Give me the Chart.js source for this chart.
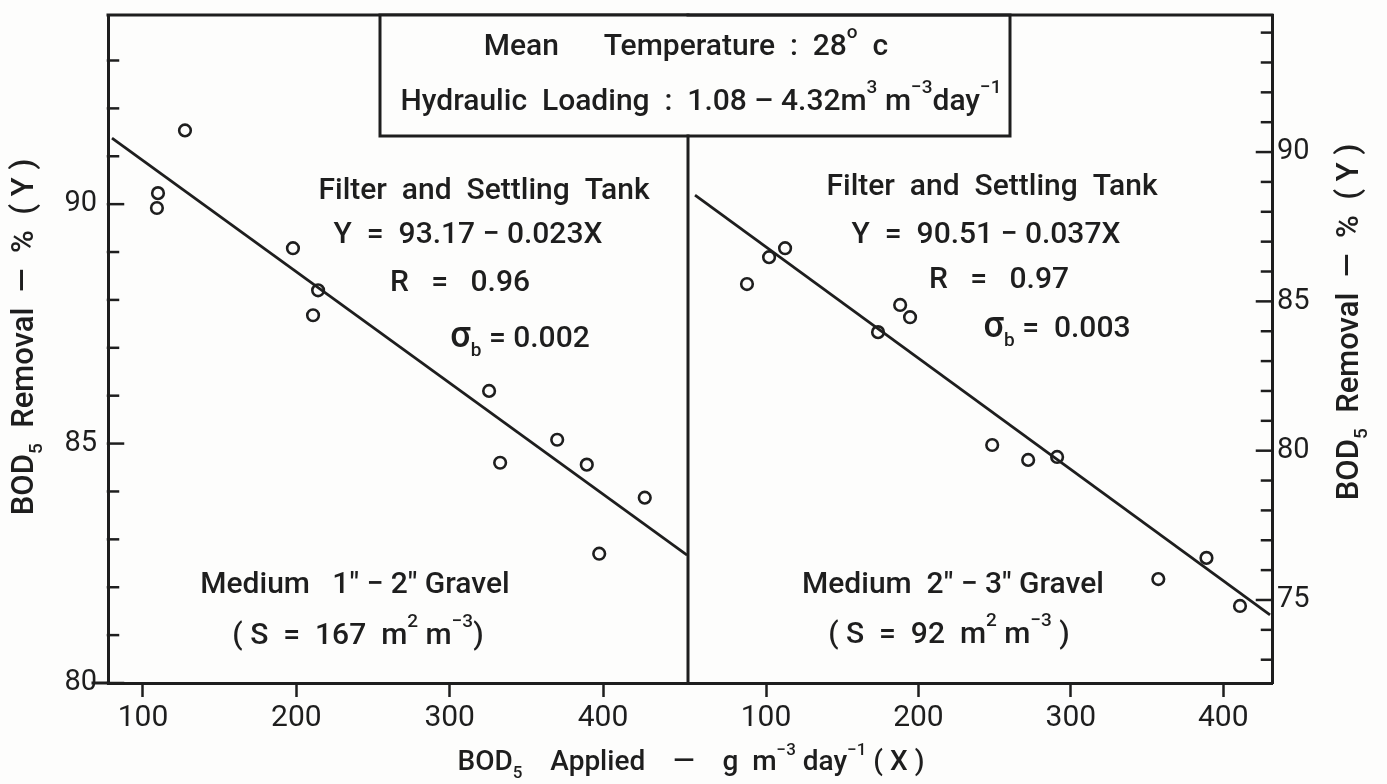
<!DOCTYPE html>
<html>
<head>
<meta charset="utf-8">
<script src="https://cdn.jsdelivr.net/npm/chart.js@4.4.1/dist/chart.umd.min.js"></script>
<style>
  body { margin: 0; background: #fdfdfc; }
  #wrap { position: relative; width: 1387px; height: 784px; }
  #wrap canvas { position: absolute; left: 0; top: 0; }
</style>
</head>
<body>
<div id="wrap">
  <canvas id="leftChart" width="1387" height="784"></canvas>
  <canvas id="rightChart" width="1387" height="784"></canvas>
</div>
<script>
const INK = '#1e1e1e';
const FONT = 'Roboto, "DejaVu Sans", sans-serif';

// Medium 1"-2" gravel (left panel)
const leftApplied = [109.8, 109.1, 127.4, 197.8, 214.2, 210.9, 325.7, 332.9, 370.1, 389.4, 427.2, 397.5];
const leftRemoval = [90.23, 89.92, 91.54, 89.08, 88.20, 87.68, 86.10, 84.60, 85.08, 84.56, 83.87, 82.70];
const leftFitApplied = [79.8, 454.8];
const leftFitRemoval = [91.38, 82.67];

// Medium 2"-3" gravel (right panel)
const rightApplied = [87.5, 102.0, 112.5, 173.5, 188.0, 194.5, 248.4, 272.0, 291.0, 357.4, 389.0, 411.0];
const rightRemoval = [85.58, 86.48, 86.78, 83.97, 84.88, 84.47, 80.19, 79.69, 79.79, 75.70, 76.41, 74.80];
const rightFitApplied = [53.4, 430.7];
const rightFitRemoval = [88.56, 74.50];

// axis ranges and tick steps
const leftXRange = [77.2, 455.4];
const leftYRange = [80, 93.95];
const rightXRange = [48.8, 432];
const rightYRange = [72.22, 94.59];
const xTickStep = 100;
const yTickStep = 5;

// draw a line of text with super/subscripts, centred on (cx, cy)
function drawRich(ctx, parts, cx, cy, size, angle) {
    const sizeOf = k => k === 'big' ? Math.round(size * 1.2) : k ? Math.round(size * 0.62) : size;
    ctx.save();
    ctx.translate(cx, cy);
    ctx.rotate(angle || 0);
    ctx.fillStyle = INK;
    ctx.textBaseline = 'alphabetic';
    ctx.textAlign = 'left';
    const widths = parts.map(([t, k]) => {
        ctx.font = `500 ${sizeOf(k)}px ${FONT}`;
        return ctx.measureText(t).width;
    });
    let x = -widths.reduce((a, b) => a + b, 0) / 2;
    const base = size * 0.36;
    parts.forEach(([t, k], i) => {
        ctx.font = `500 ${sizeOf(k)}px ${FONT}`;
        const dy = k === 'sup' ? -size * 0.55 : k === 'sub' ? size * 0.3 : 0;
        ctx.fillText(t, x, base + dy);
        x += widths[i];
    });
    ctx.restore();
}

const panelFrame = {
    id: 'panelFrame',
    afterDraw(chart, args, opts) {
        const ctx = chart.ctx;
        const area = chart.chartArea;
        const y = chart.scales.y;
        ctx.save();
        ctx.strokeStyle = INK;
        ctx.lineCap = 'square';

        // inward tick marks every 1 %
        ctx.lineWidth = 2.5;
        const edge = opts.side === 'left' ? area.left : area.right;
        const dir = opts.side === 'left' ? 1 : -1;
        for (let v = Math.ceil(y.min); v <= y.max; v++) {
            const py = y.getPixelForValue(v);
            const len = v % yTickStep === 0 ? 15 : 10;
            ctx.beginPath();
            ctx.moveTo(edge, py);
            ctx.lineTo(edge + dir * len, py);
            ctx.stroke();
        }

        // top border of the panel
        ctx.lineWidth = 3;
        ctx.beginPath();
        ctx.moveTo(area.left, area.top);
        ctx.lineTo(area.right, area.top);
        ctx.stroke();

        if (opts.side === 'left') {
            const boxBottom = area.top + 121;
            // header box
            ctx.fillStyle = '#fdfdfc';
            ctx.fillRect(380, area.top, 630, 121);
            ctx.strokeRect(380, area.top, 630, 121);
            // divider between the panels, below the box
            ctx.beginPath();
            ctx.moveTo(area.right, boxBottom);
            ctx.lineTo(area.right, area.bottom);
            ctx.stroke();
            // baseline stub past the axis
            ctx.beginPath();
            ctx.moveTo(area.left - 15, area.bottom);
            ctx.lineTo(area.left, area.bottom);
            ctx.stroke();
        }
        ctx.restore();

        opts.notes.forEach(n => drawRich(ctx, n.parts, n.x, n.y, n.size || 30, n.angle));
    }
};

const yTitle = [['BOD', ''], ['5', 'sub'], ['  Removal  —  %  ( Y )', '']];

const leftNotes = [
    { x: 686, y: 44, parts: [['Mean      Temperature  :  28', ''], ['o', 'sup'], ['  c', '']] },
    { x: 701, y: 99, parts: [['Hydraulic  Loading  :  1.08 – 4.32m', ''], ['3', 'sup'], [' m', ''], ['−3', 'sup'], ['day', ''], ['−1', 'sup']] },
    { x: 484, y: 188, parts: [['Filter  and  Settling  Tank', '']] },
    { x: 468, y: 232, parts: [['Y  =  93.17 − 0.023X', '']] },
    { x: 460, y: 280, parts: [['R   =   0.96', '']] },
    { x: 520, y: 336, parts: [['σ', 'big'], ['b', 'sub'], [' = 0.002', '']] },
    { x: 355, y: 582, parts: [['Medium   1" − 2" Gravel', '']] },
    { x: 358, y: 633, parts: [['( S  =  167  m', ''], ['2', 'sup'], [' m', ''], ['−3', 'sup'], [')', '']] },
    { x: 22, y: 337, size: 31, angle: -Math.PI / 2, parts: yTitle },
    { x: 691, y: 760, size: 28, parts: [['BOD', ''], ['5', 'sub'], ['    Applied    —    g  m', ''], ['−3', 'sup'], [' day', ''], ['−1', 'sup'], [' ( X )', '']] }
];

const rightNotes = [
    { x: 992, y: 184, parts: [['Filter  and  Settling  Tank', '']] },
    { x: 986, y: 232, parts: [['Y  =  90.51 − 0.037X', '']] },
    { x: 999, y: 277, parts: [['R   =   0.97', '']] },
    { x: 1057, y: 326, parts: [['σ', 'big'], ['b', 'sub'], [' =  0.003', '']] },
    { x: 953, y: 582, parts: [['Medium  2" − 3" Gravel', '']] },
    { x: 949, y: 632, parts: [['( S  =  92  m', ''], ['2', 'sup'], [' m', ''], ['−3', 'sup'], [' )', '']] },
    { x: 1347, y: 322, size: 31, angle: -Math.PI / 2, parts: yTitle }
];

function makePanel(canvasId, side, xs, ys, fitX, fitY, xRange, yRange, notes) {
    const points = xs.map((x, i) => ({ x: x, y: ys[i] }));
    const fit = fitX.map((x, i) => ({ x: x, y: fitY[i] }));
    const isLeft = side === 'left';

    return new Chart(document.getElementById(canvasId), {
        type: 'scatter',
        data: {
            datasets: [{
                label: 'Fit',
                data: fit,
                showLine: true,
                borderColor: INK,
                borderWidth: 2.8,
                pointRadius: 0,
                tension: 0
            }, {
                label: 'Observed',
                data: points,
                pointStyle: 'circle',
                pointRadius: 5.8,
                pointBorderWidth: 2.6,
                borderColor: INK,
                backgroundColor: 'rgba(0,0,0,0)'
            }]
        },
        options: {
            responsive: false,
            animation: false,
            events: [],
            layout: {
                autoPadding: false,
                padding: isLeft ? { left: 0, right: 1387 - 688, top: 15, bottom: 0 }
                                : { left: 688, right: 0, top: 15, bottom: 0 }
            },
            plugins: {
                legend: { display: false },
                tooltip: { enabled: false },
                panelFrame: { side: side, notes: notes }
            },
            scales: {
                x: {
                    type: 'linear',
                    position: 'bottom',
                    min: xRange[0],
                    max: xRange[1],
                    afterFit: s => {
                        s.height = 101;
                        s.paddingLeft = 0;
                        s.paddingRight = 0;
                    },
                    border: { display: true, color: INK, width: 3 },
                    grid: { drawOnChartArea: false, drawTicks: true, tickLength: 14, tickWidth: 2.5, tickColor: INK, color: INK },
                    ticks: {
                        stepSize: xTickStep,
                        includeBounds: false,
                        autoSkip: false,
                        maxRotation: 0,
                        padding: 3,
                        color: INK,
                        font: { family: FONT, size: 30 }
                    }
                },
                y: {
                    type: 'linear',
                    position: side,
                    min: yRange[0],
                    max: yRange[1],
                    afterFit: s => {
                        s.width = isLeft ? 108 : 1387 - 1272;
                        s.paddingTop = 0;
                        s.paddingBottom = 0;
                    },
                    border: { display: true, color: INK, width: 3 },
                    grid: { drawOnChartArea: false, drawTicks: false },
                    ticks: {
                        stepSize: yTickStep,
                        includeBounds: false,
                        padding: isLeft ? 11 : 5,
                        color: INK,
                        font: { family: FONT, size: 29 }
                    }
                }
            }
        },
        plugins: [panelFrame]
    });
}

makePanel('leftChart', 'left', leftApplied, leftRemoval, leftFitApplied, leftFitRemoval, leftXRange, leftYRange, leftNotes);
makePanel('rightChart', 'right', rightApplied, rightRemoval, rightFitApplied, rightFitRemoval, rightXRange, rightYRange, rightNotes);
</script>
</body>
</html>
